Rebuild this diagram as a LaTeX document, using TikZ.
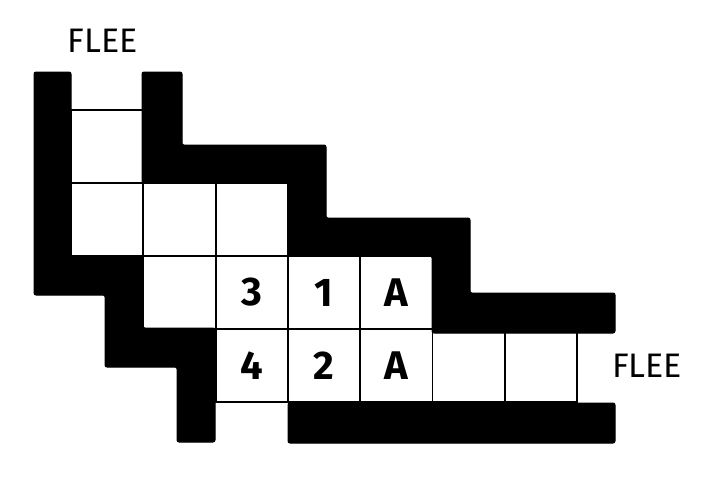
\documentclass[tikz,border=0pt]{standalone}
\usepackage{fontspec}
\setmainfont{Fira Sans}
\begin{document}
\begin{tikzpicture}[x=1pt, y=-1pt,
  wall/.style = {fill = black, draw = black, line width = 1pt, rounded corners = 2pt},
  cell/.style = {fill = white, draw = black, line width = 1.8pt},
  sign/.style = {font = \fontsize{34}{34}\selectfont},
  digit/.style = {font = \fontsize{40}{40}\selectfont\bfseries}]
\pgfmathsetmacro\cw{72.3};
\pgfmathsetmacro\ch{73};
\useasboundingbox (0,0) rectangle (704,485);
% cells, row by row: {row/first col/last col}
\foreach \r/\a/\b in {0/0/0, 1/0/2, 2/1/4, 3/2/6}
  \foreach \c in {\a,...,\b}
    \draw [cell] (71+\cw*\c,110+\ch*\r) rectangle (71+\cw*\c+\cw,110+\ch*\r+\ch);
% walls
\draw [wall] (34,72) -- (71,72) -- (71,256) -- (143,256) -- (143,328) -- (215,328) -- (215,442) -- (177,442) -- (177,367) -- (105,367) -- (105,295) -- (34,295) -- cycle;
\draw [wall] (142,72) -- (182,72) -- (182,145) -- (326,145) -- (326,218) -- (470,218) -- (470,293) -- (615,293) -- (615,333) -- (432,333) -- (432,256) -- (288,256) -- (288,183) -- (142,183) -- cycle;
\draw [wall] (288,403) rectangle (615,443);
% labels
\node [sign] (exitTop) at (103,41) {FLEE};
\node [sign] (exitRight) at (647,366) {FLEE};
\node [digit] (three) at (71+\cw*2.5,110+\ch*2.5) {3};
\node [digit] (one) at (71+\cw*3.5,110+\ch*2.5) {1};
\node [digit] (aUp) at (71+\cw*4.5,110+\ch*2.5) {A};
\node [digit] (four) at (71+\cw*2.5,110+\ch*3.5) {4};
\node [digit] (two) at (71+\cw*3.5,110+\ch*3.5) {2};
\node [digit] (aDown) at (71+\cw*4.5,110+\ch*3.5) {A};
\end{tikzpicture}
\end{document}
